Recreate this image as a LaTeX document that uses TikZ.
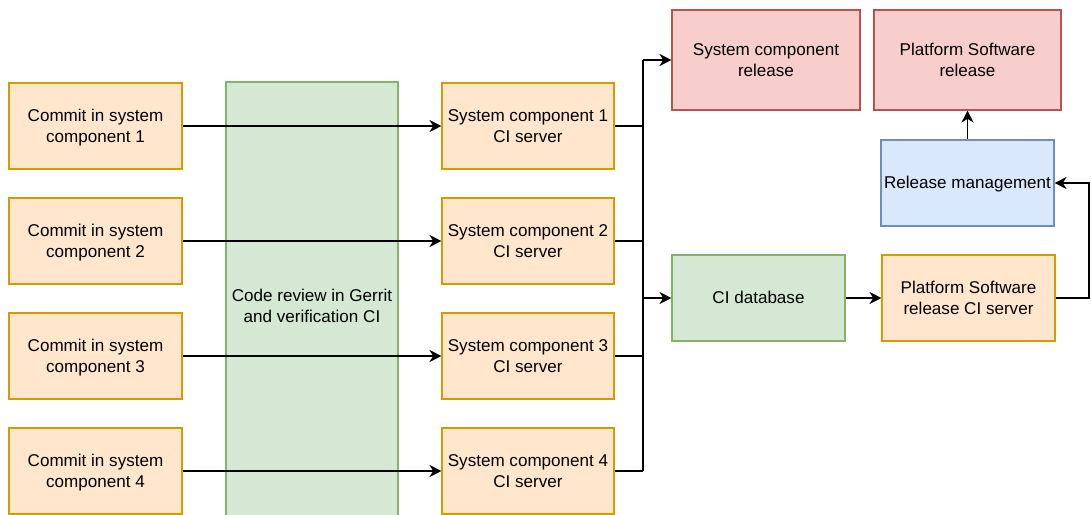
\documentclass[tikz,border=0pt]{standalone}
\usepackage{fontspec}
\setmainfont{Liberation Sans}
\usetikzlibrary{arrows.meta}
\definecolor{orfill}{HTML}{FFE6CC}\definecolor{ordraw}{HTML}{D79B00}
\definecolor{grfill}{HTML}{D5E8D4}\definecolor{grdraw}{HTML}{82B366}
\definecolor{rdfill}{HTML}{F8CECC}\definecolor{rddraw}{HTML}{B85450}
\definecolor{blfill}{HTML}{DAE8FC}\definecolor{bldraw}{HTML}{6C8EBF}
% line box strut: ascent and descent of one text line
\newcommand{\linestrut}{\rule[-3.25pt]{0pt}{15.35pt}}
% box label: first and last line padded to full line boxes
\newcommand{\lbl}[1]{\linestrut#1\linestrut}
\tikzset{
  box/.style={rectangle, inner sep=0pt, align=center, line width=0.8pt,
    font=\fontsize{12.8pt}{15.3pt}\selectfont,
    minimum width={173*0.75pt}, minimum height={86*0.75pt}},
  orange/.style={box, fill=orfill, draw=ordraw},
  green/.style={box, fill=grfill, draw=grdraw},
  red/.style={box, fill=rdfill, draw=rddraw, minimum height={100*0.75pt}},
  blue/.style={box, fill=blfill, draw=bldraw},
  wire/.style={line width=1.3pt, black},
  arr/.style={wire, -{Stealth[length=9pt, width=9pt, inset=2.8pt]}},
}
\begin{document}
\begin{tikzpicture}[x=0.75pt, y=-0.75pt]
\useasboundingbox (0,0) rectangle (1091,514);
\clip (0,0) rectangle (1091,514);
% review stage spanning all components
\node[green, minimum width={172*0.75pt}, minimum height={448*0.75pt}] (rev) at (312,306) {\lbl{Code review in Gerrit\\and verification CI}};
% commits
\node[orange] (c1) at (95.5,126) {\lbl{Commit in system\\component 1}};
\node[orange] (c2) at (95.5,241) {\lbl{Commit in system\\component 2}};
\node[orange] (c3) at (95.5,356) {\lbl{Commit in system\\component 3}};
\node[orange] (c4) at (95.5,471) {\lbl{Commit in system\\component 4}};
% component CI servers
\node[orange, minimum width={172*0.75pt}] (s1) at (528,126) {\lbl{System component 1\\CI server}};
\node[orange, minimum width={172*0.75pt}] (s2) at (528,241) {\lbl{System component 2\\CI server}};
\node[orange, minimum width={172*0.75pt}] (s3) at (528,356) {\lbl{System component 3\\CI server}};
\node[orange, minimum width={172*0.75pt}] (s4) at (528,471) {\lbl{System component 4\\CI server}};
% releases and platform side
\node[red, minimum width={188*0.75pt}] (scr) at (766,60) {\lbl{System component\\release}};
\node[red, minimum width={187*0.75pt}] (psr) at (967.5,60) {\lbl{Platform Software\\release}};
\node[blue] (rm) at (967.5,183) {\lbl{Release management}};
\node[green] (db) at (758.5,298) {\lbl{CI database}};
\node[orange] (pci) at (968.5,298) {\lbl{Platform Software\\release CI server}};
% routing columns
\coordinate (bx) at (643,0);
\coordinate (rx) at (1089,0);
% commits through review
\foreach \i in {1,...,4} {
  \draw[arr] (c\i.east) -- (s\i.west);
  \draw[wire] (s\i.east) -- (s\i.east -| bx);
}
% bus to release and database
\draw[wire] (bx |- scr.west) -- (bx |- s4.east);
\draw[arr] (bx |- scr.west) -- (scr.west);
\draw[arr] (bx |- db.west) -- (db.west);
\draw[arr] (db.east) -- (pci.west);
\draw[arr] (pci.east) -- (pci.east -| rx) |- (rm.east);
\draw[arr] (rm.north) -- (psr.south);
\end{tikzpicture}
\end{document}
